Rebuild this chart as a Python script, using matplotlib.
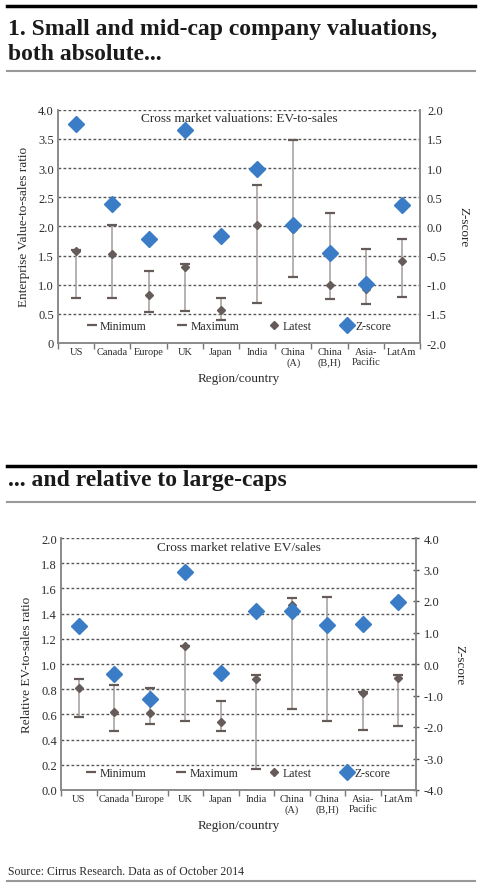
import numpy as np
import matplotlib
matplotlib.use('Agg')
import matplotlib.pyplot as plt
from matplotlib.lines import Line2D

plt.rcParams['font.family'] = ['Liberation Serif', 'DejaVu Serif']

# categories on both charts
regions = ['US', 'Canada', 'Europe', 'UK', 'Japan', 'India', 'China\n(A)',
           'China\n(B,H)', 'Asia-\nPacific', 'LatAm']

# chart 1: absolute EV-to-sales
abs_min = [0.78, 0.77, 0.53, 0.55, 0.40, 0.69, 1.13, 0.76, 0.67, 0.79]
abs_max = [1.60, 2.02, 1.23, 1.36, 0.77, 2.71, 3.48, 2.23, 1.61, 1.78]
abs_latest = [1.57, 1.53, 0.83, 1.31, 0.56, 2.03, 1.95, 1.00, 0.93, 1.41]
abs_z = [1.75, 0.39, -0.21, 1.66, -0.17, 0.98, 0.03, -0.46, -0.99, 0.37]

# chart 2: relative to large caps
rel_min = [0.58, 0.47, 0.52, 0.55, 0.47, 0.17, 0.64, 0.55, 0.48, 0.51]
rel_max = [0.88, 0.83, 0.81, 1.14, 0.71, 0.91, 1.52, 1.53, 0.78, 0.91]
rel_latest = [0.81, 0.62, 0.61, 1.14, 0.54, 0.88, 1.47, 1.31, 0.77, 0.89]
rel_z = [1.20, -0.33, -1.11, 2.91, -0.28, 1.68, 1.68, 1.24, 1.28, 1.97]

W, H = 480, 887
BLUE = '#3b7cc6'
DARK = '#655c59'
BAR = '#a39d9a'
TXT = '#2b2b2b'


def fy(y):
    return 1 - y / H


def hline(y, color, lw):
    fig.add_artist(Line2D([7 / W, 475 / W], [fy(y), fy(y)], color=color, lw=lw))


def draw_panel(rect, mins, maxs, latest, zs, ylim, ystep, zlim, zstep,
               yfmt, zfmt, ylabel, inner_title, z_ticks_inout):
    ax = fig.add_axes(rect)
    ax2 = ax.twinx()
    x = np.arange(len(regions))

    ax.vlines(x, mins, maxs, color=BAR, lw=1.1, zorder=2)
    h_min, = ax.plot(x, mins, ls='none', marker='_', ms=7, mew=1.6, color=DARK,
                     label='Minimum', zorder=3)
    h_max, = ax.plot(x, maxs, ls='none', marker='_', ms=7, mew=1.6, color=DARK,
                     label='Maximum', zorder=3)
    h_lat, = ax.plot(x, latest, ls='none', marker='D', ms=4, color=DARK,
                     label='Latest', zorder=4)
    h_z, = ax2.plot(x, zs, ls='none', marker='D', ms=8.5, color=BLUE,
                    label='Z-score', zorder=5)

    ax.set_xlim(-0.5, len(regions) - 0.5)
    ax.set_ylim(*ylim)
    ax2.set_ylim(*zlim)
    yt = np.arange(ylim[0], ylim[1] + ystep / 2, ystep)
    zt = np.arange(zlim[0], zlim[1] + zstep / 2, zstep)
    ax.set_yticks(yt)
    ax.set_yticklabels([yfmt(v) for v in yt])
    ax2.set_yticks(zt)
    ax2.set_yticklabels([zfmt(v) for v in zt])

    for v in yt[1:]:
        ax.axhline(v, color='#555555', lw=1, ls=(0, (2, 1.6)), zorder=1)

    ax.set_xticks(np.arange(-0.5, len(regions), 1.0))
    ax.set_xticklabels([])
    ax.set_xticks(x, minor=True)
    ax.set_xticklabels(regions, minor=True, fontsize=7.5, color=TXT,
                       linespacing=1.1)
    ax.tick_params(axis='x', which='major', direction='out', length=4,
                   color='#777777', width=1)
    ax.tick_params(axis='x', which='minor', length=0, pad=3)
    ax.tick_params(axis='y', length=0, labelsize=9, colors=TXT, pad=3)
    if z_ticks_inout:
        ax2.tick_params(axis='y', direction='inout', length=5, width=1,
                        color='#555555', labelsize=9, labelcolor=TXT, pad=3)
    else:
        ax2.tick_params(axis='y', length=0, labelsize=9, labelcolor=TXT, pad=5)

    for a in (ax, ax2):
        a.spines['top'].set_visible(False)
        for s in ('left', 'right', 'bottom'):
            a.spines[s].set_color('#8a8a8a')
            a.spines[s].set_linewidth(1.2)

    ax.set_ylabel(ylabel, fontsize=9.5, color=TXT, labelpad=6)
    ax2.set_ylabel('Z-score', fontsize=9.5, color=TXT, rotation=270,
                   labelpad=16)
    ax.set_xlabel('Region/country', fontsize=9.5, color=TXT, labelpad=4)
    ax.text(0.5, 0.965, inner_title, transform=ax.transAxes, ha='center',
            va='center', fontsize=9.5, color=TXT)

    ax2.legend(handles=[h_min, h_max, h_lat, h_z], loc='lower center',
               bbox_to_anchor=(0.5, 0.0), ncol=4, frameon=False, fontsize=8.5,
               columnspacing=2.6, handlelength=0.8, handletextpad=0.3,
               markerscale=1.0, labelcolor=TXT)
    return ax


fig = plt.figure(figsize=(W / 100, H / 100), dpi=100)

# headings and rules
hline(7, 'black', 2.5)
fig.text(8 / W, fy(30), '1. Small and mid-cap company valuations,',
         fontsize=17, fontweight='bold', va='center', color='#1a1a1a')
fig.text(8 / W, fy(54), 'both absolute...', fontsize=17,
         fontweight='bold', va='center', color='#1a1a1a')
hline(72, '#999999', 1.5)

hline(467, 'black', 2.5)
fig.text(8 / W, fy(481), '... and relative to large-caps', fontsize=17,
         fontweight='bold', va='center', color='#1a1a1a')
hline(503, '#999999', 1.5)

fig.text(8 / W, fy(872), 'Source: Cirrus Research. Data as of October 2014',
         fontsize=8.5, va='center', color=TXT)
hline(882, '#999999', 1.5)

draw_panel([58 / W, fy(344), 362 / W, (344 - 110.7) / H],
           abs_min, abs_max, abs_latest, abs_z,
           (0, 4.0), 0.5, (-2.0, 2.0), 0.5,
           lambda v: '0' if v == 0 else f'{v:.1f}',
           lambda v: f'{v:.1f}' if abs(v) > 1e-9 else '0.0',
           'Enterprise Value-to-sales ratio',
           'Cross market valuations: EV-to-sales', False)

draw_panel([61 / W, fy(791), 355 / W, (791 - 539) / H],
           rel_min, rel_max, rel_latest, rel_z,
           (0, 2.0), 0.2, (-4.0, 4.0), 1.0,
           lambda v: f'{v:.1f}',
           lambda v: f'{v:.1f}' if abs(v) > 1e-9 else '0.0',
           'Relative EV-to-sales ratio',
           'Cross market relative EV/sales', True)

fig.savefig('out.png', dpi=100)
